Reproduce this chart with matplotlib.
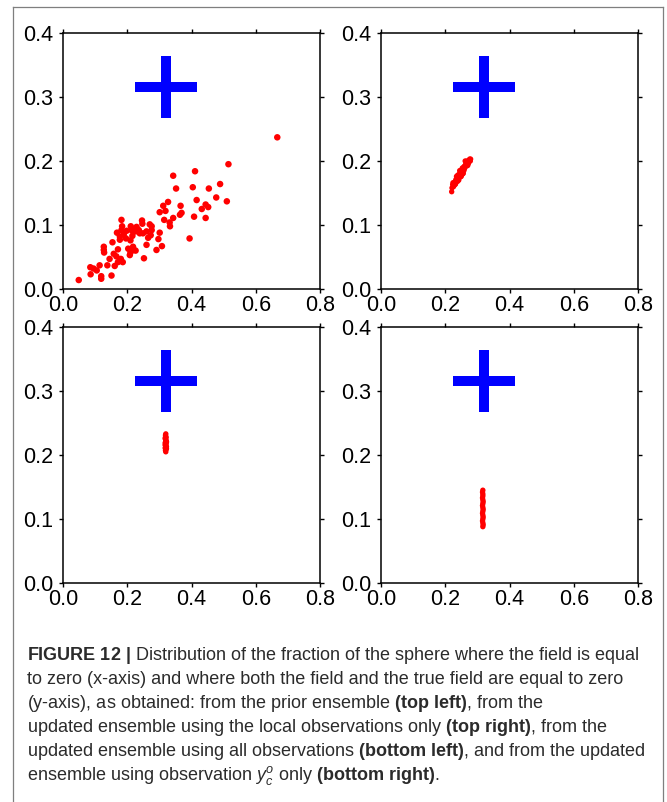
import numpy as np
import matplotlib
matplotlib.use('Agg')
import matplotlib.pyplot as plt
from matplotlib.lines import Line2D

# --- data ---
truth_x, truth_y = 0.32, 0.315

# prior ensemble (top left)
prior_x = [0.049, 0.667, 0.515, 0.343, 0.411, 0.352, 0.404, 0.489, 0.454, 0.477,
           0.510, 0.416, 0.327, 0.312, 0.301, 0.319, 0.366, 0.369, 0.364, 0.444,
           0.432, 0.452, 0.408, 0.444, 0.343, 0.315, 0.332, 0.333, 0.394, 0.301,
           0.297, 0.308, 0.291, 0.252, 0.260, 0.265, 0.273, 0.276, 0.270, 0.276,
           0.246, 0.247, 0.236, 0.260, 0.226, 0.214, 0.211, 0.215, 0.182, 0.184,
           0.168, 0.177, 0.182, 0.189, 0.196, 0.210, 0.216, 0.218, 0.210, 0.221,
           0.208, 0.226, 0.203, 0.171, 0.180, 0.186, 0.171, 0.161, 0.154, 0.158,
           0.166, 0.145, 0.138, 0.127, 0.127, 0.128, 0.114, 0.105, 0.095, 0.085,
           0.086, 0.119, 0.119, 0.151, 0.249, 0.239, 0.177, 0.198, 0.229]
prior_y = [0.014, 0.237, 0.195, 0.177, 0.184, 0.157, 0.159, 0.164, 0.157, 0.143,
           0.137, 0.139, 0.136, 0.130, 0.120, 0.122, 0.130, 0.119, 0.116, 0.132,
           0.125, 0.128, 0.113, 0.111, 0.111, 0.108, 0.104, 0.098, 0.079, 0.088,
           0.078, 0.067, 0.061, 0.048, 0.069, 0.080, 0.084, 0.092, 0.101, 0.098,
           0.107, 0.102, 0.092, 0.090, 0.090, 0.093, 0.098, 0.091, 0.108, 0.098,
           0.088, 0.082, 0.092, 0.085, 0.079, 0.076, 0.083, 0.066, 0.057, 0.061,
           0.053, 0.060, 0.063, 0.062, 0.047, 0.042, 0.042, 0.036, 0.073, 0.055,
           0.051, 0.047, 0.037, 0.066, 0.061, 0.057, 0.037, 0.029, 0.032, 0.034,
           0.023, 0.020, 0.016, 0.021, 0.087, 0.087, 0.077, 0.091, 0.097]

# updated, local observations only (top right)
local_x = [0.220, 0.221, 0.223, 0.226, 0.228, 0.231, 0.233, 0.236, 0.238, 0.240,
           0.242, 0.244, 0.246, 0.248, 0.250, 0.252, 0.254, 0.256, 0.258, 0.260,
           0.262, 0.264, 0.266, 0.268, 0.270, 0.272, 0.274, 0.276, 0.278, 0.279,
           0.235, 0.245, 0.255, 0.265, 0.258, 0.242, 0.230, 0.270, 0.262, 0.250,
           0.224, 0.232, 0.239, 0.247, 0.253, 0.261, 0.267, 0.273, 0.238, 0.256]
local_y = [0.152, 0.158, 0.163, 0.160, 0.166, 0.168, 0.171, 0.170, 0.174, 0.177,
           0.173, 0.179, 0.182, 0.178, 0.184, 0.186, 0.183, 0.189, 0.191, 0.188,
           0.193, 0.195, 0.192, 0.197, 0.199, 0.196, 0.201, 0.203, 0.200, 0.203,
           0.176, 0.185, 0.180, 0.198, 0.185, 0.170, 0.163, 0.193, 0.200, 0.176,
           0.166, 0.164, 0.178, 0.175, 0.189, 0.192, 0.200, 0.198, 0.168, 0.181]

# updated, all observations (bottom left)
all_x = [0.320, 0.319, 0.321, 0.318, 0.322, 0.319, 0.321, 0.318, 0.322, 0.320,
         0.319, 0.321, 0.320, 0.319, 0.320, 0.322, 0.318, 0.321, 0.319, 0.320,
         0.322, 0.318]
all_y = [0.205, 0.207, 0.209, 0.211, 0.213, 0.215, 0.217, 0.219, 0.221, 0.223,
         0.225, 0.227, 0.229, 0.231, 0.233, 0.210, 0.216, 0.222, 0.228, 0.214,
         0.220, 0.226]

# updated, observation y_c^o only (bottom right)
yc_x = [0.317, 0.318, 0.317, 0.316, 0.317, 0.318, 0.317, 0.316, 0.317, 0.318,
        0.317, 0.316, 0.317, 0.318, 0.317, 0.316, 0.317, 0.317, 0.316, 0.317]
yc_y = [0.088, 0.091, 0.094, 0.097, 0.100, 0.103, 0.106, 0.109, 0.112, 0.115,
        0.118, 0.121, 0.124, 0.127, 0.130, 0.133, 0.136, 0.139, 0.142, 0.145]

xticks = [0.0, 0.2, 0.4, 0.6, 0.8]
yticks = [0.0, 0.1, 0.2, 0.3, 0.4]

caption_lines = [
    r"$\mathbf{FIGURE\ 12\ |}$ Distribution of the fraction of the sphere where the field is equal",
    "to zero (x-axis) and where both the field and the true field are equal to zero",
    r"(y-axis), as obtained: from the prior ensemble $\mathbf{(top\ left)}$, from the",
    r"updated ensemble using the local observations only $\mathbf{(top\ right)}$, from the",
    r"updated ensemble using all observations $\mathbf{(bottom\ left)}$, and from the updated",
    r"ensemble using observation $y_c^o$ only $\mathbf{(bottom\ right)}$.",
]

cap_font = 'Liberation Sans'
plt.rcParams['font.family'] = ['Liberation Sans', 'DejaVu Sans']
plt.rcParams['mathtext.fontset'] = 'custom'
plt.rcParams['mathtext.rm'] = cap_font
plt.rcParams['mathtext.bf'] = cap_font + ':bold'
plt.rcParams['mathtext.it'] = cap_font + ':italic'

W, H = 667, 802
fig = plt.figure(figsize=(W / 100, H / 100), dpi=100)


def add_panel(left, top, w=257, h=256):
    return fig.add_axes([left / W, 1 - (top + h) / H, w / W, h / H])


panels = [
    (63, 33, prior_x, prior_y, 22),
    (381, 33, local_x, local_y, 15),
    (63, 327, all_x, all_y, 15),
    (381, 327, yc_x, yc_y, 15),
]

for left, top, xs, ys, size in panels:
    ax = add_panel(left, top)
    ax.scatter(xs, ys, s=size, color='#ff0000', edgecolors='none', zorder=3)
    ax.plot([truth_x], [truth_y], ls='none', marker='+', ms=45, mew=7.2,
            color='#0000ff', zorder=4)
    ax.set_xlim(0, 0.8)
    ax.set_ylim(0, 0.4)
    ax.set_xticks(xticks)
    ax.set_yticks(yticks)
    ax.set_xticklabels([f'{t:.1f}' for t in xticks])
    ax.set_yticklabels([f'{t:.1f}' for t in yticks])
    ax.tick_params(direction='out', length=3, width=1, top=True, right=True,
                   labelsize=15.5, colors='black')
    ax.tick_params(axis='x', pad=1.5)
    ax.tick_params(axis='y', pad=4)
    for sp in ax.spines.values():
        sp.set_linewidth(1.1)

# frame around the whole figure
gray = '#7f7f7f'
fig.add_artist(Line2D([13 / W, 13 / W], [0, 1 - 7 / H], transform=fig.transFigure, color=gray, lw=0.9))
fig.add_artist(Line2D([663 / W, 663 / W], [0, 1 - 7 / H], transform=fig.transFigure, color=gray, lw=0.9))
fig.add_artist(Line2D([13 / W, 663 / W], [1 - 7 / H, 1 - 7 / H], transform=fig.transFigure, color=gray, lw=0.9))

# caption
for i, line in enumerate(caption_lines):
    y = 660 + i * 24
    fig.text(27 / W, 1 - y / H, line, family=cap_font, size=13,
             color='#2b2b2b', ha='left', va='baseline')

fig.savefig('out.png', dpi=100)
